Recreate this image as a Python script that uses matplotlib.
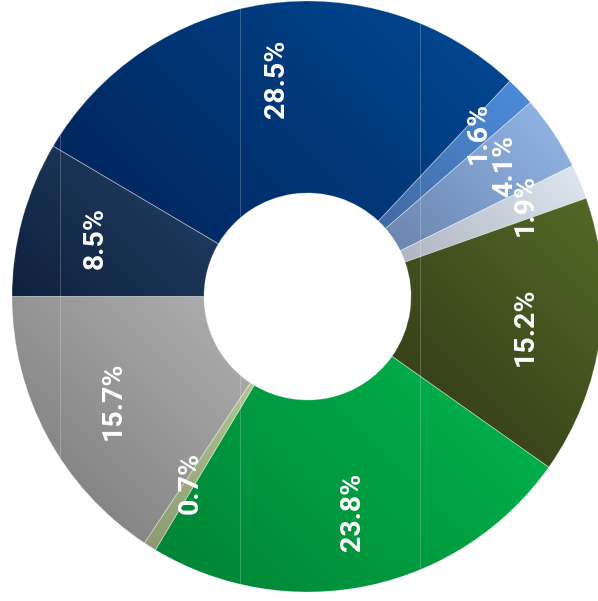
import numpy as np
import matplotlib
matplotlib.use("Agg")
import matplotlib.pyplot as plt
from matplotlib.colors import LinearSegmentedColormap
from matplotlib.patches import Wedge

# Shares, clockwise from the 1.6% slice
labels = ["1.6%", "4.1%", "1.9%", "15.2%", "23.8%", "0.7%", "15.7%", "8.5%", "28.5%"]
shares = [1.6, 4.1, 1.9, 15.2, 23.8, 0.7, 15.7, 8.5, 28.5]

# Gradient end colours for each slice (light = upper right, dark = lower left)
light_colors = ["#4b8bd9", "#8fb2e3", "#dde5ef", "#526827", "#00ae49",
                "#c6dca4", "#b9b9b9", "#203c61", "#00468f"]
dark_colors = ["#3e5a86", "#5a7196", "#989fab", "#363f18", "#008536",
               "#8c9a72", "#858585", "#0f213d", "#00275f"]

W, H = 598, 601
fig = plt.figure(figsize=(W / 100, H / 100), dpi=100)
ax = fig.add_axes([0, 0, 1, 1])

cx, cy = 307.5, H - 296.5
r_out, r_in = 295.5, 103.5

wedges, _ = ax.pie(
    shares,
    startangle=90 - 43.2,
    counterclock=False,
    radius=r_out,
    center=(cx, cy),
    wedgeprops=dict(width=r_out - r_in, facecolor="none",
                    edgecolor=(1, 1, 1, 0.30), linewidth=0.6),
)
ax.set_xlim(0, W)
ax.set_ylim(0, H)
ax.set_aspect("equal")
ax.axis("off")

# Diagonal gradient fill, clipped to each slice
xs = np.arange(W) + 0.5
ys = np.arange(H) + 0.5
gx, gy = np.meshgrid(xs, ys)
proj = (gx + gy) / np.sqrt(2)

for w, lc, dc in zip(wedges, light_colors, dark_colors):
    w.set_zorder(3)
    verts = w.get_path().vertices
    p = (verts[:, 0] + verts[:, 1]) / np.sqrt(2)
    t = np.clip((proj - p.min()) / (p.max() - p.min()), 0, 1)
    cmap = LinearSegmentedColormap.from_list("g", [dc, lc])
    im = ax.imshow(t, extent=(0, W, 0, H), origin="lower", cmap=cmap,
                   vmin=0, vmax=1, interpolation="bilinear", zorder=1)
    im.set_clip_path(w)

# Faint vertical seams across the ring
ring = Wedge((cx, cy), r_out, 0, 360, width=r_out - r_in,
             facecolor="none", edgecolor="none")
ax.add_patch(ring)
for sx in (59.5, 239.5, 419.5):
    ln, = ax.plot([sx, sx], [0, H], color="white", alpha=0.22, lw=0.7, zorder=2)
    ln.set_clip_path(ring)

# Percentage labels, rotated to read bottom-to-top; labels of small slices
# that sit next to another small slice are pushed towards the outer edge
n = len(shares)
for i, (w, lab, s) in enumerate(zip(wedges, labels, shares)):
    mid = np.deg2rad((w.theta1 + w.theta2) / 2)
    crowded = s < 5 and (shares[i - 1] < 5 or shares[(i + 1) % n] < 5)
    r = (0.80 if crowded else 0.745) * r_out
    ax.text(cx + r * np.cos(mid), cy + r * np.sin(mid), lab,
            rotation=90, ha="center", va="center", color="white",
            fontsize=20.5, fontweight="bold", family="Roboto", zorder=5)

fig.savefig("out.png", dpi=100)
